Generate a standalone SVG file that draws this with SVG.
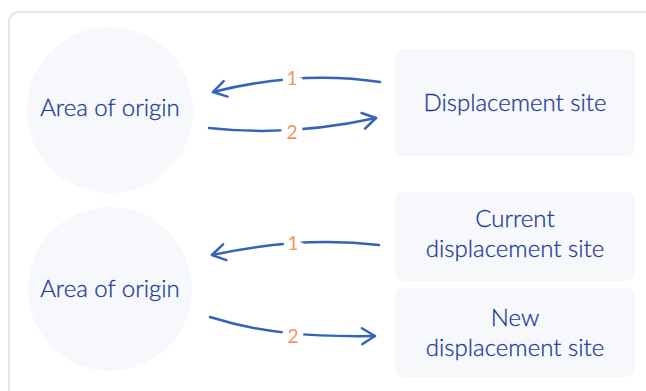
<svg xmlns="http://www.w3.org/2000/svg" width="646" height="391" viewBox="0 0 646 391">
<style>
.frame{fill:#fff;stroke:#e1e5ef;stroke-width:2}
.node{fill:#f6f8fc}
.lbl{font-family:Lato,"Open Sans",sans-serif;font-weight:300;font-size:24px;fill:#1f3c94;stroke:#1f3c94;stroke-width:0.3;text-anchor:middle}
.num{font-family:Lato,"Open Sans",sans-serif;font-weight:400;font-size:19px;fill:#f2935e;text-anchor:middle;stroke:#fff;stroke-width:12;paint-order:stroke}
.edge{fill:none;stroke:#3464b8;stroke-width:2.5;stroke-linecap:round;marker-end:url(#arr)}
</style>
<defs>
<marker id="arr" markerUnits="userSpaceOnUse" viewBox="-16 -10 18 20" refX="0" refY="0" markerWidth="18" markerHeight="20" orient="auto" overflow="visible">
<path d="M-13,-8 L0,0 L-13,8" fill="none" stroke="#3464b8" stroke-width="2.5" stroke-linecap="round" stroke-linejoin="round"/>
</marker>
</defs>
<rect width="646" height="391" fill="#fff"/>
<rect class="frame" x="9" y="12" width="660" height="400" rx="10"/>
<g id="origin1"><circle class="node" cx="110" cy="110" r="83"/><text class="lbl" x="110" y="116">Area of origin</text></g>
<g id="site1"><rect class="node" x="395" y="49" width="240" height="107" rx="8"/><text class="lbl" x="515" y="111">Displacement site</text></g>
<g id="origin2"><circle class="node" cx="110" cy="289" r="82"/><text class="lbl" x="110" y="297">Area of origin</text></g>
<g id="site2"><rect class="node" x="395" y="192" width="240" height="89" rx="8"/><text class="lbl" x="515" y="227">Current</text><text class="lbl" x="515" y="257">displacement site</text></g>
<g id="site3"><rect class="node" x="395" y="288" width="240" height="89" rx="8"/><text class="lbl" x="515" y="326">New</text><text class="lbl" x="515" y="356">displacement site</text></g>
<g id="connectors">
<path class="edge" d="M380,82 Q300,70 213,92"/>
<text class="num" x="292" y="85">1</text>
<path class="edge" d="M209,128 Q290,137 376,118"/>
<text class="num" x="292" y="139">2</text>
<path class="edge" d="M379,245 Q300,236 212,255"/>
<text class="num" x="293" y="250">1</text>
<path class="edge" d="M210,317 C260,333 310,337 375,336"/>
<text class="num" x="293" y="343">2</text>
</g>
</svg>
